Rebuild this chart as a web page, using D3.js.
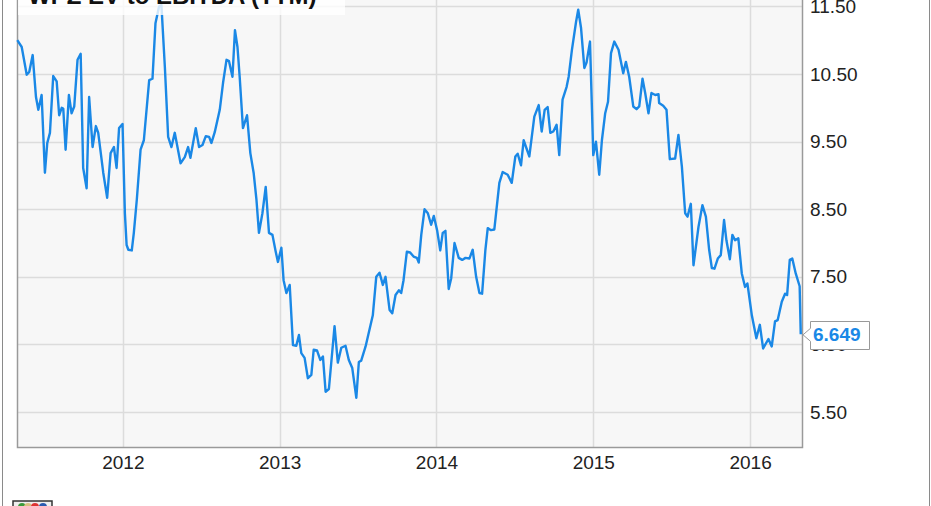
<!DOCTYPE html>
<html><head><meta charset="utf-8">
<script src="https://cdn.jsdelivr.net/npm/d3@7"></script>
<style>body{margin:0;background:#fff}svg{display:block;font-family:"Liberation Sans",Arial,sans-serif}</style>
</head><body><svg id="c" width="931" height="506"></svg>
<script>
const title = "WPZ EV to EBITDA (TTM)";
const yearTicks = [2012, 2013, 2014, 2015, 2016];
const valueTicks = [5.5, 6.5, 7.5, 8.5, 9.5, 10.5, 11.5];
const lastValue = 6.649;
// decimal year of each observation
const years = [2011.327,2011.355,2011.387,2011.403,2011.425,2011.446,2011.461,2011.482,2011.503,2011.518,2011.535,2011.556,2011.578,2011.594,2011.610,2011.620,2011.635,2011.656,2011.673,2011.690,2011.711,2011.731,2011.747,2011.769,2011.785,2011.807,2011.828,2011.843,2011.875,2011.900,2011.922,2011.943,2011.960,2011.976,2011.998,2012.013,2012.024,2012.035,2012.057,2012.070,2012.089,2012.113,2012.134,2012.168,2012.189,2012.208,2012.231,2012.246,2012.268,2012.289,2012.310,2012.331,2012.368,2012.395,2012.416,2012.431,2012.465,2012.486,2012.508,2012.529,2012.550,2012.565,2012.586,2012.618,2012.639,2012.661,2012.677,2012.699,2012.715,2012.731,2012.745,2012.766,2012.792,2012.813,2012.834,2012.852,2012.868,2012.890,2012.911,2012.932,2012.954,2012.975,2012.989,2013.011,2013.025,2013.043,2013.064,2013.085,2013.106,2013.123,2013.138,2013.159,2013.180,2013.202,2013.217,2013.238,2013.259,2013.276,2013.293,2013.314,2013.350,2013.371,2013.393,2013.420,2013.441,2013.463,2013.489,2013.505,2013.520,2013.548,2013.594,2013.616,2013.637,2013.658,2013.675,2013.701,2013.718,2013.739,2013.760,2013.775,2013.790,2013.811,2013.832,2013.854,2013.875,2013.887,2013.903,2013.924,2013.945,2013.966,2013.983,2014.004,2014.024,2014.040,2014.057,2014.078,2014.094,2014.115,2014.142,2014.164,2014.185,2014.210,2014.231,2014.253,2014.274,2014.291,2014.312,2014.327,2014.348,2014.369,2014.380,2014.401,2014.422,2014.454,2014.480,2014.503,2014.518,2014.539,2014.556,2014.571,2014.592,2014.624,2014.652,2014.671,2014.690,2014.709,2014.726,2014.745,2014.766,2014.783,2014.804,2014.830,2014.843,2014.864,2014.890,2014.904,2014.922,2014.943,2014.957,2014.979,2015.000,2015.017,2015.038,2015.055,2015.076,2015.094,2015.113,2015.134,2015.161,2015.191,2015.208,2015.229,2015.255,2015.276,2015.293,2015.314,2015.331,2015.352,2015.371,2015.395,2015.416,2015.420,2015.446,2015.467,2015.488,2015.522,2015.543,2015.565,2015.586,2015.601,2015.622,2015.639,2015.671,2015.696,2015.718,2015.739,2015.756,2015.773,2015.794,2015.813,2015.834,2015.849,2015.871,2015.887,2015.904,2015.925,2015.947,2015.968,2015.983,2016.011,2016.040,2016.062,2016.083,2016.117,2016.138,2016.159,2016.176,2016.202,2016.223,2016.236,2016.253,2016.269,2016.291,2016.316,2016.323];
// EV/EBITDA value at each observation
const values = [11.00,10.90,10.49,10.53,10.78,10.16,9.97,10.19,9.04,9.48,9.63,10.47,10.39,9.89,10.00,9.99,9.38,10.19,9.92,10.02,10.71,10.80,9.11,8.81,10.16,9.42,9.73,9.63,9.04,8.67,9.33,9.42,9.11,9.70,9.76,8.44,7.97,7.90,7.89,8.15,8.64,9.38,9.52,10.41,10.43,11.25,11.50,11.52,10.60,9.57,9.42,9.63,9.18,9.27,9.42,9.26,9.70,9.42,9.45,9.58,9.57,9.48,9.64,9.97,10.37,10.71,10.69,10.46,11.15,10.90,10.46,9.70,9.89,9.33,9.04,8.64,8.15,8.44,8.83,8.15,8.12,7.87,7.72,7.93,7.45,7.26,7.38,6.49,6.48,6.64,6.37,6.30,6.00,6.05,6.42,6.41,6.27,6.32,5.80,5.84,6.77,6.23,6.45,6.48,6.27,6.15,5.71,6.24,6.26,6.47,6.93,7.50,7.56,7.38,7.50,7.01,6.96,7.23,7.30,7.26,7.45,7.87,7.86,7.80,7.78,7.71,8.12,8.50,8.44,8.27,8.40,8.19,7.89,8.15,8.18,7.32,7.48,8.00,7.78,7.75,7.78,7.77,7.90,7.50,7.26,7.25,7.90,8.22,8.19,8.20,8.44,8.89,9.05,9.01,8.89,9.28,9.32,9.15,9.52,9.42,9.28,9.87,10.04,9.65,9.97,10.01,9.63,9.65,9.75,9.30,10.12,10.31,10.46,10.86,11.27,11.45,11.18,10.59,10.67,10.98,9.30,9.50,9.01,9.52,9.92,10.09,10.81,10.98,10.86,10.51,10.68,10.46,10.02,9.98,10.02,10.43,10.22,9.92,10.22,10.19,10.20,10.07,10.03,9.97,9.24,9.25,9.60,9.13,8.44,8.39,8.58,7.67,8.24,8.56,8.39,7.90,7.63,7.62,7.77,7.82,8.34,8.04,7.76,8.12,8.04,8.07,7.55,7.35,7.40,6.93,6.59,6.79,6.44,6.58,6.47,6.84,6.86,7.13,7.25,7.23,7.75,7.77,7.55,7.36,6.649];

const data = years.map((t, i) => ({t, v: values[i]}));
const svg = d3.select("#c");
const L = 17, R = 802, T = 0, B = 447;
const x = d3.scaleLinear().domain([2011.325, 2016.331]).range([L, R]);
const y = d3.scaleLinear().domain([4.982, 11.595]).range([B, T]);

// outer frame
svg.append("line").attr("x1",2.5).attr("x2",2.5).attr("y1",0).attr("y2",506).attr("stroke","#8a8a8a");
svg.append("line").attr("x1",929.5).attr("x2",929.5).attr("y1",0).attr("y2",506).attr("stroke","#8a8a8a");

// plot background
svg.append("rect").attr("x",L).attr("y",T).attr("width",R-L).attr("height",B-T).attr("fill","#f7f7f7");

// gridlines
svg.append("g").selectAll("line").data(valueTicks).join("line")
  .attr("x1",L).attr("x2",R).attr("y1",d=>Math.round(y(d))+0.5).attr("y2",d=>Math.round(y(d))+0.5)
  .attr("stroke","#dcdcdc").attr("stroke-width",1.5);
svg.append("g").selectAll("line").data(yearTicks).join("line")
  .attr("y1",T).attr("y2",B).attr("x1",d=>Math.round(x(d))+0.5).attr("x2",d=>Math.round(x(d))+0.5)
  .attr("stroke","#dcdcdc").attr("stroke-width",1.5);

// plot border (left, right, bottom)
svg.append("path").attr("d",`M${L+0.5},${T}V${B+0.5}H${R+0.5}V${T}`)
  .attr("fill","none").attr("stroke","#9a9a9a").attr("stroke-width",1.5);

// series line
const line = d3.line().x(d=>x(d.t)).y(d=>y(d.v));
svg.append("path").datum(data).attr("d",line).attr("fill","none")
  .attr("stroke","#1a88e6").attr("stroke-width",2.4).attr("stroke-linejoin","round");

// title box (partially cut off at top)
svg.append("rect").attr("x",L+1).attr("y",0).attr("width",327).attr("height",15).attr("fill","#fff").attr("opacity",0.8);
svg.append("text").attr("x",28).attr("y",4).attr("font-size",24).attr("font-weight","bold").attr("fill","#111").text(title);

// y axis labels (right)
const yAxis = d3.axisRight(y).tickValues(valueTicks).tickFormat(d3.format(".2f")).tickSize(0).tickPadding(8);
const ya = svg.append("g").attr("transform",`translate(${R},0)`).call(yAxis);
ya.select(".domain").remove();
ya.selectAll("text").attr("font-size",19).attr("fill","#222").attr("font-family","Liberation Sans, Arial, sans-serif");

// x axis labels
const xAxis = d3.axisBottom(x).tickValues(yearTicks).tickFormat(d3.format("d")).tickSize(0).tickPadding(9);
const xa = svg.append("g").attr("transform",`translate(0,${B})`).call(xAxis);
xa.select(".domain").remove();
xa.selectAll("text").attr("font-size",19).attr("fill","#222").attr("font-family","Liberation Sans, Arial, sans-serif");

// last value flag
const ly = y(lastValue);
const g = svg.append("g");
g.append("path").attr("d",`M${R+1},${ly+0.5} L810.5,${ly-6} V321.5 H869.5 V349.5 H810.5 V${ly+7} Z`)
  .attr("fill","#fff").attr("stroke","#999").attr("stroke-width",1);
g.append("text").attr("x",813).attr("y",ly+2).attr("dominant-baseline","middle")
  .attr("font-size",19).attr("font-weight","bold").attr("fill","#1a88e6").text(d3.format(".3f")(lastValue));

// small logo bottom-left
const lg = svg.append("g");
lg.append("rect").attr("x",13).attr("y",501).attr("width",39).attr("height",10).attr("fill","#eee").attr("stroke","#333").attr("stroke-width",1.5);
lg.append("circle").attr("cx",22).attr("cy",507).attr("r",4).attr("fill","#3a9a3a");
lg.append("circle").attr("cx",28).attr("cy",507).attr("r",4).attr("fill","#d8c080");
lg.append("circle").attr("cx",35).attr("cy",507).attr("r",4).attr("fill","#d33");
lg.append("circle").attr("cx",43).attr("cy",507).attr("r",4).attr("fill","#2a5ab0");
</script></body></html>
